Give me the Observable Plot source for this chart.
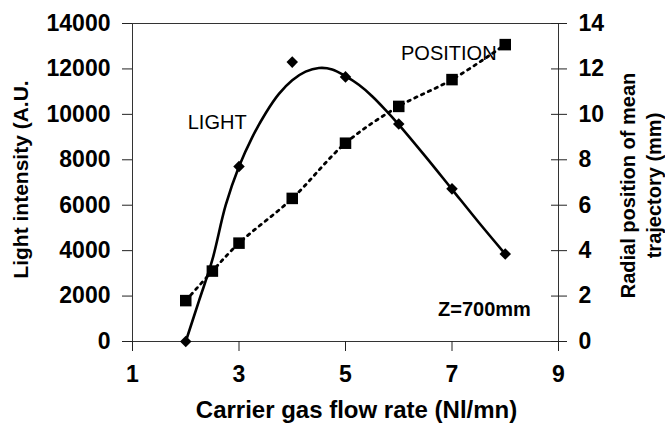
<!DOCTYPE html>
<html><head><meta charset="utf-8">
<script src="https://cdn.jsdelivr.net/npm/d3@7"></script>
<script src="https://cdn.jsdelivr.net/npm/@observablehq/plot@0.6"></script>
<style>
body{margin:0;background:#fff}
#chart svg{font-family:"Liberation Sans",Arial,sans-serif}
</style>
</head><body><div id="chart"></div>
<script>
// Measured data points (LIGHT: left axis, A.U.)
const flowLight = [2, 3, 4, 5, 6, 7, 8];
const lightValues = [0, 7700, 12300, 11650, 9580, 6720, 3850];
// Smoothed LIGHT curve
const lightCurveFlow = [2, 2.25, 2.5, 2.75, 3, 3.25, 3.5, 3.75, 4, 4.25, 4.5, 4.75, 5, 5.25, 5.5, 5.75, 6, 6.5, 7, 7.5, 8];
const lightCurveValues = [0, 1800, 3600, 6000, 7700, 9000, 10050, 10900, 11500, 11880, 12040, 11980, 11680, 11300, 10800, 10200, 9550, 8150, 6700, 5250, 3850];
// POSITION (right axis, mm)
const flowPosition = [2, 2.5, 3, 4, 5, 6, 7, 8];
const positionValues = [1.8, 3.1, 4.33, 6.3, 8.73, 10.35, 11.53, 13.07];
// Axis ticks
const xTicks = [1, 3, 5, 7, 9];
const leftTicks = [0, 2000, 4000, 6000, 8000, 10000, 12000, 14000];
const rightTicks = [0, 2, 4, 6, 8, 10, 12, 14];
// Texts
const xTitle = "Carrier gas flow rate (Nl/mn)";
const leftTitle = "Light intensity (A.U.";
const rightTitle = "Radial position of mean\ntrajectory (mm)";
const curveLabels = ["LIGHT", "POSITION"];
const curveLabelFlow = [2.59, 6.94];
const curveLabelLight = [9620, 12660];
const zLabel = ["Z=700mm"];
const zLabelFlow = [7.61];
const zLabelLight = [1410];

const k = leftTicks[leftTicks.length - 1] / rightTicks[rightTicks.length - 1];
const light = flowLight.map((x, i) => ({x, y: lightValues[i]}));
const lightCurve = lightCurveFlow.map((x, i) => ({x, y: lightCurveValues[i]}));
const position = flowPosition.map((x, i) => ({x, y: positionValues[i] * k}));
const notes = curveLabels.map((t, i) => ({t, x: curveLabelFlow[i], y: curveLabelLight[i]}));
const zNotes = zLabel.map((t, i) => ({t, x: zLabelFlow[i], y: zLabelLight[i]}));

const font = "'Liberation Sans', Arial, sans-serif";
const plot = Plot.plot({
  width: 665, height: 423,
  marginLeft: 132, marginRight: 107, marginTop: 23, marginBottom: 82,
  style: {fontFamily: font, background: "#fff", color: "#000", overflow: "visible"},
  x: {domain: [1, 9]},
  y: {domain: [0, 14000]},
  marks: [
    Plot.frame({stroke: "#333", strokeWidth: 1}),
    Plot.axisX({ticks: xTicks, tickFormat: d3.format("d"), tickSize: 10, tickPadding: 14, fontSize: 23, fontWeight: "bold", label: null, stroke: "#222"}),
    Plot.axisY({ticks: leftTicks, tickFormat: d3.format("d"), tickSize: 10, tickPadding: 12, fontSize: 23, fontWeight: "bold", label: null, stroke: "#222"}),
    Plot.axisY({anchor: "right", ticks: rightTicks.map(v => v * k), tickFormat: d => d3.format("d")(d / k), tickSize: 8, tickPadding: 12, fontSize: 23, fontWeight: "bold", label: null, stroke: "#222"}),
    Plot.axisY({anchor: "right", ticks: rightTicks.map(v => v * k), tickFormat: () => "", tickSize: -8, label: null, stroke: "#222"}),
    Plot.line(position, {x: "x", y: "y", curve: "catmull-rom", stroke: "#000", strokeWidth: 2.8, strokeDasharray: "2.5,5", strokeLinecap: "round"}),
    Plot.line(lightCurve, {x: "x", y: "y", curve: "catmull-rom", stroke: "#000", strokeWidth: 2.6}),
    Plot.dot(light, {x: "x", y: "y", symbol: "diamond2", r: 5.2, fill: "#000", stroke: "none"}),
    Plot.dot(position, {x: "x", y: "y", symbol: "square", r: 6.5, fill: "#000", stroke: "none"}),
    Plot.text(notes, {x: "x", y: "y", text: "t", fontSize: 20, fill: "#000"}),
    Plot.text(zNotes, {x: "x", y: "y", text: "t", fontSize: 20, fontWeight: "bold", fill: "#000"}),
    Plot.text([xTitle], {frameAnchor: "bottom", textAnchor: "middle", lineAnchor: "middle", dx: 11, dy: 69, fontSize: 24, fontWeight: "bold", fill: "#000"}),
    Plot.text([leftTitle], {frameAnchor: "left", textAnchor: "middle", lineAnchor: "middle", dx: -111, dy: -3, rotate: -90, fontSize: 21, fontWeight: "bold", fill: "#000"}),
    Plot.text([rightTitle], {frameAnchor: "right", textAnchor: "middle", lineAnchor: "middle", dx: 81, dy: 3, rotate: -90, fontSize: 20, fontWeight: "bold", lineHeight: 1.32, fill: "#000"})
  ]
});
document.getElementById("chart").append(plot);
</script>
</body></html>
